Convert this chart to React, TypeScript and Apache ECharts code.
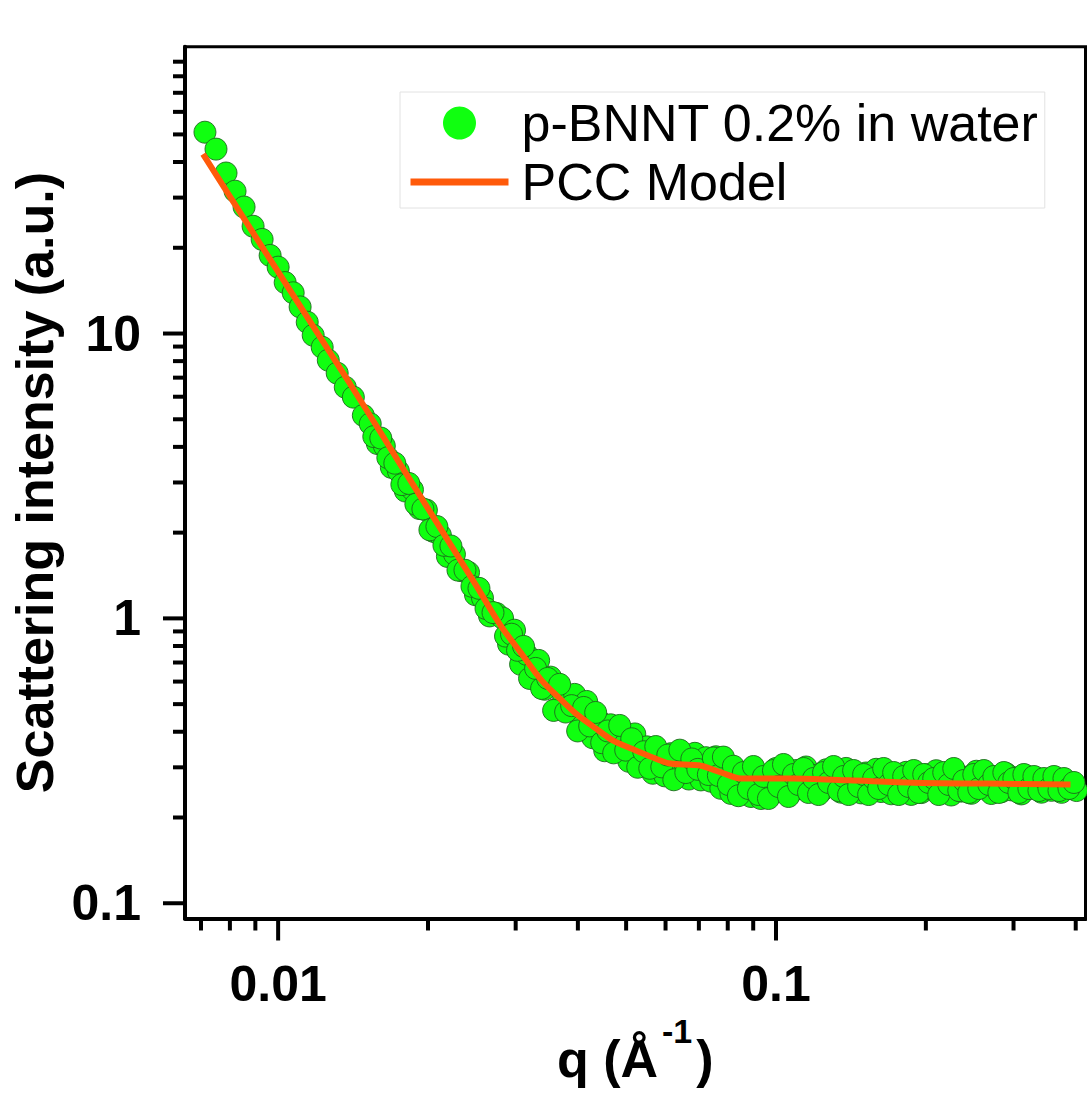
import React, { useEffect, useRef } from 'react';
import * as echarts from 'echarts';

// ---- data ----
const qData = [
  0.007128, 0.007502, 0.007858, 0.008193, 0.008542, 0.008906, 0.009286, 0.009636, 0.0100, 0.01033,
  0.01072, 0.01107, 0.01144, 0.01176, 0.01226, 0.01261, 0.01314, 0.01364, 0.01416, 0.01483,
  0.01531, 0.01582, 0.01634, 0.01688, 0.01744, 0.01801, 0.01861, 0.01922, 0.01985, 0.02051,
  0.02118, 0.02188, 0.02260, 0.02335, 0.02412, 0.02491, 0.02573, 0.02658, 0.02746,
  0.02823, 0.02903, 0.02984, 0.03069, 0.03155, 0.03244, 0.03336, 0.03430, 0.03526, 0.03626,
  0.03728, 0.03833, 0.03941, 0.04052, 0.04166, 0.04284, 0.04405, 0.04529, 0.04656, 0.04788,
  0.04923, 0.05062, 0.05204, 0.05351, 0.05502, 0.05657, 0.05816, 0.05980, 0.06149, 0.06322,
  0.06501, 0.06684, 0.06872, 0.07066,
  0.07230, 0.07399, 0.07573, 0.07750, 0.07932, 0.08118, 0.08308, 0.08503, 0.08702, 0.08906,
  0.09115, 0.09328, 0.09547, 0.09771, 0.09999, 0.1023, 0.1047, 0.1072, 0.1097, 0.1123,
  0.1149, 0.1176, 0.1204, 0.1232, 0.1261, 0.1290, 0.1320, 0.1351, 0.1383, 0.1415,
  0.1449, 0.1483, 0.1517, 0.1553, 0.1589, 0.1626, 0.1665, 0.1704, 0.1743, 0.1784,
  0.1826, 0.1869, 0.1913, 0.1958, 0.2003, 0.2050, 0.2098, 0.2148, 0.2198, 0.2249,
  0.2302, 0.2356, 0.2411, 0.2468, 0.2526, 0.2585, 0.2645, 0.2707, 0.2771, 0.2836,
  0.2902, 0.2970, 0.3040, 0.3111, 0.3184, 0.3259, 0.3335, 0.3413, 0.3493, 0.3575,
  0.3659, 0.3745, 0.3832, 0.3922, 0.4014,
];
const intensityData = [
  50.9, 44.4, 36.6, 31.6, 27.8, 23.8, 21.4, 18.8, 17.1, 15.1,
  13.9, 12.4, 10.96, 9.86, 8.95, 8.06, 7.26, 6.48, 5.98, 5.16,
  4.82, 4.11, 4.03, 3.39, 3.29, 2.80, 2.83, 2.43, 2.40, 2.02,
  1.96, 1.65, 1.68, 1.47, 1.45, 1.21, 1.18, 1.02, 1.04,
  1.003, 0.812, 0.909, 0.690, 0.748, 0.616, 0.712, 0.564, 0.622, 0.481,
  0.548, 0.474, 0.541, 0.415, 0.511, 0.381, 0.439, 0.343, 0.423, 0.350,
  0.397, 0.315, 0.393, 0.312, 0.354, 0.286, 0.335, 0.280, 0.335, 0.280,
  0.317, 0.273, 0.336, 0.271,
  0.3243, 0.2682, 0.3267, 0.2532, 0.2938, 0.2430, 0.2950, 0.2448, 0.2697, 0.2370,
  0.2877, 0.2332, 0.2654, 0.2408, 0.2972, 0.2487, 0.2741, 0.2448, 0.2922, 0.2522,
  0.3008, 0.2555, 0.2813, 0.2467, 0.2941, 0.2581, 0.2842, 0.2454, 0.2974, 0.2524,
  0.2737, 0.2440, 0.2866, 0.2597, 0.2953, 0.2467, 0.2804, 0.2422, 0.2752, 0.2495,
  0.2882, 0.2410, 0.2697, 0.2446, 0.2826, 0.2522, 0.2919, 0.2440, 0.2732, 0.2399,
  0.2863, 0.2475, 0.2770, 0.2432, 0.2907, 0.2551, 0.2808, 0.2428, 0.2717, 0.2463,
  0.2849, 0.2500, 0.2756, 0.2420, 0.2796, 0.2536, 0.2750, 0.2454, 0.2704, 0.2491,
  0.2745, 0.2451, 0.2654, 0.2528, 0.2487,
];
// the interleaved points of the dense part of the curve
const qDataDense = [
  0.015565, 0.016078, 0.016608, 0.017155, 0.017721, 0.018305, 0.018908, 0.019531, 0.020175, 0.020840,
  0.021527, 0.022237, 0.022970, 0.023727, 0.024509, 0.025317, 0.026152, 0.027014,
  0.028625, 0.029432, 0.030262, 0.031115, 0.031992, 0.032894, 0.033821, 0.034774, 0.035754, 0.036762,
  0.037798, 0.038863, 0.039959, 0.041085, 0.042243, 0.043434, 0.044658, 0.045917, 0.047211, 0.048542,
  0.049910, 0.051317, 0.052763, 0.054250, 0.055779, 0.057351, 0.058968, 0.060630, 0.062339, 0.064096,
  0.065902, 0.067760, 0.069670,
  0.073142, 0.074856, 0.076610, 0.078406, 0.080243, 0.082124, 0.084048, 0.086018, 0.088034, 0.090097,
  0.092208, 0.094369, 0.096580, 0.098843, 0.10116, 0.10353, 0.10596, 0.10844, 0.11098, 0.11358,
  0.11624, 0.11897, 0.12176, 0.12461, 0.12753, 0.13052, 0.13358, 0.13671, 0.13991, 0.14319,
  0.14655, 0.14998, 0.15349, 0.15709, 0.16077, 0.16454, 0.16840, 0.17234, 0.17638, 0.18051,
  0.18474, 0.18907, 0.19350, 0.19804, 0.20268, 0.20743, 0.21229, 0.21727, 0.22236, 0.22757,
  0.23290, 0.23836, 0.24394, 0.24966, 0.25551, 0.26150, 0.26763, 0.27390, 0.28032, 0.28689,
  0.29361, 0.30049, 0.30753, 0.31474, 0.32212, 0.32967, 0.33739, 0.34530, 0.35339, 0.36167,
  0.37015, 0.37882, 0.38770, 0.39678,
];
const intensityDataDense = [
  4.347, 4.295, 3.665, 3.506, 2.949, 2.977, 2.516, 2.421, 2.046, 2.101,
  1.805, 1.795, 1.477, 1.476, 1.296, 1.275, 1.083, 1.048,
  0.8666, 0.8800, 0.7726, 0.7974, 0.6155, 0.6674, 0.5677, 0.6155, 0.4752, 0.5869,
  0.4691, 0.4940, 0.4026, 0.4868, 0.4192, 0.4675, 0.3662, 0.4026, 0.3372, 0.4209,
  0.3447, 0.3779, 0.3002, 0.3403, 0.2977, 0.3549, 0.3011, 0.3313, 0.2713, 0.3447,
  0.2876, 0.3210, 0.2951,
  0.2831, 0.3235, 0.2808, 0.3259, 0.2611, 0.3027, 0.2385, 0.2877, 0.2528, 0.3020,
  0.2408, 0.2786, 0.2332, 0.2924, 0.2569, 0.3070, 0.2370, 0.2831, 0.2611, 0.2972,
  0.2448, 0.2741, 0.2408, 0.2877, 0.2654, 0.3020, 0.2487, 0.2786, 0.2408, 0.2924,
  0.2569, 0.2831, 0.2408, 0.2741, 0.2528, 0.2972, 0.2611, 0.2877, 0.2408, 0.2786,
  0.2569, 0.2924, 0.2448, 0.2831, 0.2654, 0.2741, 0.2408, 0.2877, 0.2611, 0.2972,
  0.2487, 0.2697, 0.2448, 0.2831, 0.2528, 0.2924, 0.2611, 0.2786, 0.2448, 0.2877,
  0.2654, 0.2741, 0.2448, 0.2831, 0.2528, 0.2786, 0.2487, 0.2741, 0.2528, 0.2786,
  0.2487, 0.2741, 0.2528, 0.2654,
];
const qModel = [
  0.007065, 0.008783, 0.011073, 0.013960, 0.015457, 0.017599, 0.019760, 0.022185, 0.024910, 0.027970,
  0.030684, 0.033820, 0.036590, 0.039589, 0.043435, 0.046994, 0.052276, 0.056560, 0.060912, 0.065298,
  0.069997, 0.077508, 0.085033, 0.10820, 0.14025, 0.18867, 0.26704, 0.39043,
];
const intensityModel = [
  42.64, 23.43, 12.47, 6.637, 5.0, 3.475, 2.515, 1.819, 1.317, 0.945,
  0.760, 0.606, 0.528, 0.464, 0.411, 0.373, 0.344, 0.325, 0.310, 0.307,
  0.305, 0.288, 0.274, 0.274, 0.270, 0.265, 0.263, 0.261,
];

const xMajorTicks = [0.01, 0.1];
const xMinorTicks = [0.007, 0.008, 0.009, 0.02, 0.03, 0.04, 0.05, 0.06, 0.07, 0.08, 0.09, 0.2, 0.3, 0.4];
const yMajorTicks = [0.1, 1, 10];
const yMinorTicks = [0.2, 0.3, 0.4, 0.5, 0.6, 0.7, 0.8, 0.9, 2, 3, 4, 5, 6, 7, 8, 9, 20, 30, 40, 50, 60, 70, 80, 90];
const xTickLabels = ['0.01', '0.1'];
const yTickLabels = ['0.1', '1', '10'];

const X_MIN = 0.0065;
const X_MAX = 0.4185;
const Y_MIN = 0.0884;
const Y_MAX = 101.6;

const SERIES_DATA = 'p-BNNT 0.2% in water';
const SERIES_MODEL = 'PCC Model';

const FONT = "'Liberation Sans', Arial, Helvetica, sans-serif";

function tickSeries(values: number[], axis: 'x' | 'y', len: number) {
  return {
    type: 'custom',
    silent: true,
    clip: false,
    z: 10,
    coordinateSystem: 'cartesian2d',
    data: values.map((v) => (axis === 'x' ? [v, Y_MIN] : [X_MIN, v])),
    encode: { x: 0, y: 1 },
    renderItem: (_params: any, api: any) => {
      const p = api.coord([api.value(0), api.value(1)]);
      const shape =
        axis === 'x'
          ? { x1: p[0], y1: p[1], x2: p[0], y2: p[1] + len }
          : { x1: p[0], y1: p[1], x2: p[0] - len, y2: p[1] };
      return { type: 'line', shape, style: { stroke: '#000', lineWidth: 4 } };
    },
  };
}

function labelFor(v: number, ticks: number[], labels: string[]) {
  for (let i = 0; i < ticks.length; i++) {
    if (Math.abs(Math.log10(v) - Math.log10(ticks[i])) < 1e-6) return labels[i];
  }
  return '';
}

export default function App() {
  const ref = useRef<HTMLDivElement>(null);

  useEffect(() => {
    if (!ref.current) return;
    const chart = echarts.init(ref.current, null, { renderer: 'svg' });
    const points = qData
      .map((q, i) => [q, intensityData[i]])
      .concat(qDataDense.map((q, i) => [q, intensityDataDense[i]]));
    const option: any = {
      animation: false,
      backgroundColor: '#fff',
      grid: {
        left: 185,
        right: 1.5,
        top: 46.7,
        bottom: 179.5,
        show: true,
        borderColor: '#000',
        borderWidth: 3,
        backgroundColor: 'transparent',
      },
      legend: {
        left: 400,
        top: 92,
        orient: 'vertical',
        padding: [5, 6, 0, 7],
        itemWidth: 98,
        itemHeight: 33,
        itemGap: 7,
        borderColor: '#e2e2e2',
        borderWidth: 1,
        selectedMode: false,
        textStyle: {
          fontFamily: FONT,
          fontSize: 52,
          color: '#000',
          lineHeight: 52,
          padding: [0, 0, 0, 8],
        },
        data: [
          { name: SERIES_DATA, icon: 'circle', itemStyle: { borderWidth: 0 } },
          { name: SERIES_MODEL, itemStyle: { opacity: 0 }, lineStyle: { width: 7, color: '#ff5a0a' } },
        ],
      },
      xAxis: {
        type: 'log',
        logBase: 10,
        min: X_MIN,
        max: X_MAX,
        axisLine: { show: true, lineStyle: { color: '#000', width: 4 } },
        axisTick: { show: false },
        splitLine: { show: false },
        axisLabel: {
          margin: 40,
          fontFamily: FONT,
          fontWeight: 'bold',
          fontSize: 50,
          color: '#000',
          showMinLabel: false,
          showMaxLabel: false,
          formatter: (v: number) => labelFor(v, xMajorTicks, xTickLabels),
        },
        name: '{b|q (Å}{s|-1}{b|)}',
        nameLocation: 'middle',
        nameGap: 95,
        nameTextStyle: {
          rich: {
            b: { fontFamily: FONT, fontWeight: 'bold', fontSize: 52, lineHeight: 90, color: '#000' },
            s: {
              fontFamily: FONT,
              fontWeight: 'bold',
              fontSize: 34,
              lineHeight: 34,
              verticalAlign: 'top',
              color: '#000',
              padding: [0, 4, 0, 4],
            },
          },
        },
      },
      yAxis: {
        type: 'log',
        logBase: 10,
        min: Y_MIN,
        max: Y_MAX,
        axisLine: { show: true, lineStyle: { color: '#000', width: 4 } },
        axisTick: { show: false },
        splitLine: { show: false },
        axisLabel: {
          margin: 44,
          fontFamily: FONT,
          fontWeight: 'bold',
          fontSize: 50,
          color: '#000',
          showMinLabel: false,
          showMaxLabel: false,
          formatter: (v: number) => labelFor(v, yMajorTicks, yTickLabels),
        },
        name: 'Scattering intensity (a.u.)',
        nameLocation: 'middle',
        nameGap: 104,
        nameTextStyle: { fontFamily: FONT, fontWeight: 'bold', fontSize: 52, color: '#000' },
      },
      series: [
        {
          name: SERIES_DATA,
          type: 'scatter',
          symbol: 'circle',
          symbolSize: 22,
          data: points,
          itemStyle: { color: '#10ff10', opacity: 1, borderColor: 'rgba(30,105,30,0.9)', borderWidth: 1 },
          z: 2,
        },
        {
          name: SERIES_MODEL,
          type: 'line',
          symbol: 'none',
          smooth: 0.3,
          data: qModel.map((q, i) => [q, intensityModel[i]]),
          lineStyle: { color: '#ff5a0a', width: 6 },
          itemStyle: { color: '#ff5a0a' },
          z: 3,
        },
        tickSeries(xMajorTicks, 'x', 22),
        tickSeries(xMinorTicks, 'x', 12),
        tickSeries(yMajorTicks, 'y', 22),
        tickSeries(yMinorTicks, 'y', 12),
      ],
    };
    chart.setOption(option);
    return () => chart.dispose();
  }, []);

  return (
    <div
      ref={ref}
      style={{ position: 'fixed', left: 0, top: 0, width: 1087, height: 1098, background: '#fff' }}
    />
  );
}
